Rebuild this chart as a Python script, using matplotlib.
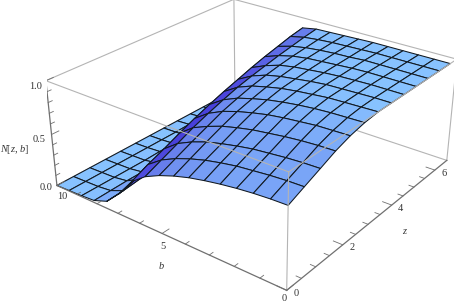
"""Surface plot of N[z, b] drawn with a fixed perspective view."""
import numpy as np
import matplotlib
matplotlib.use("Agg")
import matplotlib.pyplot as plt
from mpl_toolkits.mplot3d import proj3d

plt.rcParams["font.family"] = ["Liberation Serif", "DejaVu Serif"]
plt.rcParams["mathtext.fontset"] = "custom"
plt.rcParams["mathtext.it"] = "Liberation Serif:italic"
plt.rcParams["mathtext.rm"] = "Liberation Serif"

# --- Data ---
b_values = [0, 0.625, 1.25, 1.875, 2.5, 3.125, 3.75, 4.375, 5, 5.625, 6.25, 6.875, 7.5, 8.125, 8.75, 9.375, 10]
z_values = [0, 0.52, 1.05, 1.57, 2.09, 2.62, 3.14, 3.67, 4.19, 4.71, 5.24, 5.76, 6.28]
# one row per z value, one column per b value
n_values = [
    [.730, .725, .715, .700, .680, .655, .625, .585, .535, .470, .370, .200, .070, .020, .010, .005, 0],
    [.790, .785, .775, .760, .745, .720, .690, .650, .600, .535, .440, .250, .080, .025, .010, .005, 0],
    [.850, .845, .835, .820, .805, .780, .750, .715, .665, .600, .500, .300, .100, .030, .010, .005, 0],
    [.910, .905, .895, .880, .860, .840, .810, .775, .725, .665, .565, .350, .120, .030, .010, .005, 0],
    [.955, .950, .945, .930, .915, .895, .865, .830, .785, .720, .625, .400, .140, .035, .010, .005, 0],
    [.985, .980, .975, .965, .950, .930, .905, .870, .830, .770, .680, .450, .160, .040, .015, .005, 0],
    [1.00, .995, .990, .985, .970, .955, .935, .905, .870, .815, .730, .500, .180, .045, .015, .005, 0],
    [1.00, 1.00, .995, .990, .985, .970, .950, .930, .900, .850, .775, .550, .200, .050, .015, .005, 0],
    [1.00, 1.00, 1.00, .995, .990, .980, .965, .950, .925, .880, .820, .600, .220, .055, .020, .010, 0],
    [1.00, 1.00, 1.00, 1.00, .995, .985, .975, .965, .945, .910, .860, .640, .240, .060, .020, .010, 0],
    [1.00, 1.00, 1.00, 1.00, 1.00, .990, .985, .975, .960, .935, .895, .680, .260, .065, .020, .010, 0],
    [1.00, 1.00, 1.00, 1.00, 1.00, .995, .990, .985, .975, .960, .930, .720, .280, .070, .020, .010, 0],
    [1.00, 1.00, 1.00, 1.00, 1.00, 1.00, .995, .990, .985, .980, .955, .750, .300, .080, .020, .010, 0],
]

b_major = [0, 5, 10]
b_minor = [1, 2, 3, 4, 6, 7, 8, 9]
z_major = [0, 2, 4, 6]
z_minor = [0.5, 1, 1.5, 2.5, 3, 3.5, 4.5, 5, 5.5]
n_major = [0.0, 0.5, 1.0]
n_minor = [0.1, 0.2, 0.3, 0.4, 0.6, 0.7, 0.8, 0.9]

# --- Box and view ---
b_max, z_max, n_max = 10, 6.6, 1.0
scale, center_x, center_y = 2201.08, 256.26, 122.51  # px per projected unit, projected origin in px
width, height = 463, 303

fig = plt.figure(figsize=(width / 100, height / 100), dpi=100)
ax = fig.add_axes([0, 0, 1, 1], projection="3d", computed_zorder=False)
ax.set_axis_off()
ax.set_xlim(b_max, 0)
ax.set_ylim(0, z_max)
ax.set_zlim(0, n_max)
ax.view_init(elev=26.957, azim=-52.346)
ax.set_proj_type("persp", focal_length=0.4508)
ax.set_box_aspect((1, 1.0001, 0.4048))

# place the axes so that the box lands where it should
lim = ax.viewLim
left = center_x + scale * lim.x0
right = center_x + scale * lim.x1
top = center_y - scale * lim.y1
bottom = center_y - scale * lim.y0
ax.set_position([left / width, 1 - bottom / height, (right - left) / width, (bottom - top) / height])

# --- Surface ---
B, Z = np.meshgrid(b_values, z_values)
N = np.array(n_values)

# shade each cell from its slope in box units, darker right at the top of the cliff
height_box = N * 0.405
cell_b = -np.diff(height_box, axis=1) / (np.diff(b_values) / b_max)
cell_z = np.diff(height_box, axis=0) / (np.diff(z_values)[:, None] / z_max)
slope_b = np.pad(cell_b, ((0, 0), (0, 1)), mode="edge")
next_b = np.pad(cell_b[:, 1:], ((0, 0), (0, 2)), mode="edge")
slope_z = np.pad(cell_z, ((0, 1), (0, 0)), mode="edge")
dark = 0.7 * np.clip(slope_b - 0.15, 0, None) + 0.45 * np.clip(next_b - 0.5, 0, None) + 0.7 * np.clip(slope_z, 0, None)
dark = np.clip(dark, 0, 1)[..., None]
light_blue = np.array([0.53, 0.76, 1.0])
deep_blue = np.array([0.27, 0.22, 0.85])
colors = light_blue * (1 - dark) + deep_blue * dark

ax.plot_surface(B, Z, N, rstride=1, cstride=1, facecolors=colors, shade=False,
                edgecolor="#101820", linewidth=0.75, antialiased=True, zorder=2)

# --- Box ---
box_grey = "#b4b4b4"
axis_grey = "#707070"


def edge(p, q, color=box_grey, lw=0.8, zorder=1):
    ax.plot([p[0], q[0]], [p[1], q[1]], [p[2], q[2]], color=color, lw=lw, zorder=zorder)


# back edges stay behind the surface
edge((b_max, z_max, 0), (b_max, z_max, n_max))
edge((b_max, z_max, 0), (0, z_max, 0))
edge((b_max, z_max, 0), (b_max, 0, 0))
edge((b_max, 0, n_max), (b_max, z_max, n_max))
edge((0, z_max, n_max), (b_max, z_max, n_max))
edge((0, z_max, 0), (0, z_max, n_max))
# front edges cross over it
edge((b_max, 0, n_max), (0, 0, n_max), zorder=3)
edge((0, 0, n_max), (0, z_max, n_max), zorder=3)
edge((0, 0, 0), (0, 0, n_max), zorder=3)
# axes
edge((b_max, 0, 0), (0, 0, 0), axis_grey, 0.9, 3)
edge((0, 0, 0), (0, z_max, 0), axis_grey, 0.9, 3)
edge((b_max, 0, 0), (b_max, 0, n_max), axis_grey, 0.9, 3)

# --- Ticks ---
for b in b_major + b_minor:
    size = 0.22 if b in b_major else 0.12
    edge((b, 0, 0), (b, size, 0), axis_grey, 0.6, 3)
for z in z_major + z_minor:
    size = 0.36 if z in z_major else 0.2
    edge((0, z, 0), (size, z, 0), axis_grey, 0.6, 3)
for n in n_major + n_minor:
    size = 0.22 if n in n_major else 0.12
    edge((b_max, 0, n), (b_max, size, n), axis_grey, 0.6, 3)


def label(text, point, offset, **kw):
    x, y, _ = proj3d.proj_transform(point[0], point[1], point[2], ax.get_proj())
    ax.annotate(text, xy=(x, y), xytext=offset, textcoords="offset pixels", ha="center", va="center",
                color="#333333", fontsize=7.5, annotation_clip=False, **kw)


for b, offset in zip(b_major, [(-3, -8), (1, -13), (5, -11)]):
    label(f"{b}", (b, 0, 0), offset)
for z in z_major:
    label(f"{z}", (0, z, 0), (9, -3))
for n, offset in zip(n_major, [(-11, -2), (-12, -5), (-10, -6)]):
    label(f"{n:.1f}", (b_max, 0, n), offset)
label("b", (5, 0, 0), (-1, -33), style="italic")
label("z", (0, 3, 0), (36, -7), style="italic")
label("$N$[$z$, $b$]", (b_max, 0, 0.5), (-37, -15))

fig.savefig("out.png", dpi=100)
